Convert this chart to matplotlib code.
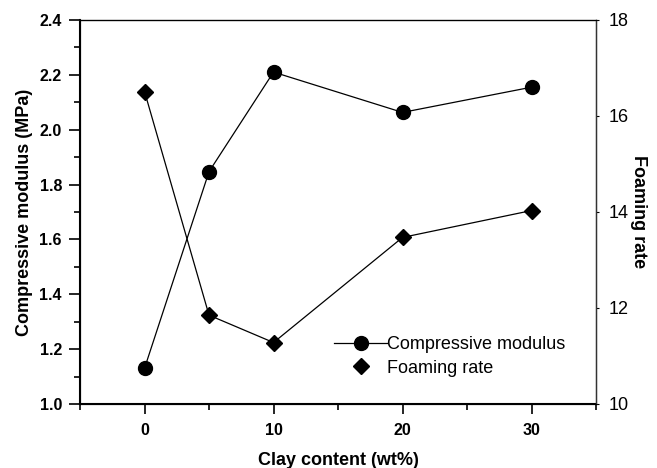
import numpy as np
import matplotlib.pyplot as plt
from matplotlib.lines import Line2D
from matplotlib.ticker import MultipleLocator

plt.rcParams['font.family'] = ['Liberation Sans', 'DejaVu Sans']

clay = [0, 5, 10, 20, 30]
modulus = [1.13, 1.847, 2.21, 2.063, 2.155]
foaming = [16.51, 11.85, 11.28, 13.47, 14.03]

fig = plt.figure(figsize=(6.57, 4.68), dpi=100)
ax = fig.add_axes([0.1218, 0.1368, 0.7854, 0.8205])
ax2 = ax.twinx()

ax.plot(clay, modulus, color='black', lw=0.9, marker='o', ms=10, zorder=3)
ax2.plot(clay, foaming, color='black', lw=0.9, marker='D', ms=8, zorder=3)

ax.set_xlim(-5, 35)
ax.set_ylim(1.0, 2.4)
ax2.set_ylim(10, 18)

ax.xaxis.set_major_locator(MultipleLocator(10))
ax.xaxis.set_minor_locator(MultipleLocator(5))
ax.yaxis.set_major_locator(MultipleLocator(0.2))
ax.yaxis.set_minor_locator(MultipleLocator(0.1))
ax2.yaxis.set_major_locator(MultipleLocator(2))

ax.tick_params(which='major', direction='out', length=8, width=1.2, labelsize=11.5, pad=5)
ax.tick_params(which='minor', direction='out', length=4, width=1.2)
ax.tick_params(axis='x', which='major', length=7, pad=7)
ax2.tick_params(axis='y', length=2, width=0.8, labelsize=13, pad=7)
for lab in ax.get_xticklabels() + ax.get_yticklabels():
    lab.set_fontweight('bold')
ax.set_yticklabels([f'{v:.1f}' for v in ax.get_yticks()], fontweight='bold')

ax.spines['left'].set_linewidth(1.5)
ax.spines['bottom'].set_linewidth(1.5)
ax.spines['top'].set_linewidth(1.0)
ax2.spines['right'].set_linewidth(1.0)
ax.spines['top'].set_color('#555555')
ax2.spines['right'].set_color('#333333')

ax.set_xlabel('Clay content (wt%)', fontsize=13, fontweight='bold', labelpad=10)
ax.set_ylabel('Compressive modulus (MPa)', fontsize=13, fontweight='bold', labelpad=5)
ax2.set_ylabel('Foaming rate', fontsize=13, fontweight='bold', rotation=270, labelpad=13)

handles = [
    Line2D([], [], color='black', lw=0.9, marker='o', ms=10),
    Line2D([], [], color='black', lw=0, marker='D', ms=8),
]
ax.legend(handles, ['Compressive modulus', 'Foaming rate'], loc='upper left',
          bbox_to_anchor=(0.479, 0.195), frameon=False, fontsize=13,
          handlelength=2.9, handletextpad=0.0, labelspacing=0.35, borderaxespad=0)

fig.savefig('out.png', dpi=100)
